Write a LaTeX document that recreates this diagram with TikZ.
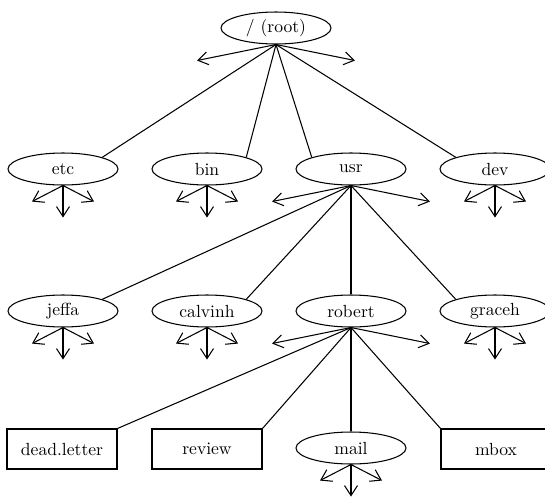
\documentclass[tikz,border=0pt]{standalone}
\usepackage{tikz}
\usetikzlibrary{shapes.geometric,arrows.meta}
\tikzset{
    node distance=2cm, % not used much, nodes sit at coordinates
    }

\begin{document}
\begin{tikzpicture}[x=0.02cm, y=-0.02cm, semithick,
dirnode/.style={ellipse, draw=black, inner sep=0pt, minimum width=2.2cm, minimum height=0.64cm},
filenode/.style={rectangle, draw=black, inner sep=0pt, minimum width=2.2cm, minimum height=0.8cm},
stub/.style={-{Straight Barb[length=2mm,width=2.6mm]}},
]
\useasboundingbox (0,0) rectangle (545,501);

\node[dirnode] (root) at (276,28) {/ (root)};

\node[dirnode] (etc) at (63,169) {etc};
\node[dirnode] (bin) at (207,169) {bin};
\node[dirnode] (usr) at (351,169) {usr};
\node[dirnode] (dev) at (495,169) {dev};

\node[dirnode] (jeffa) at (63,311) {jeffa};
\node[dirnode] (calvinh) at (207,311) {calvinh};
\node[dirnode] (robert) at (351,311) {robert};
\node[dirnode] (graceh) at (495,311) {graceh};

\node[filenode] (deadletter) at (62,449) {dead.letter};
\node[filenode] (review) at (207,449) {review};
\node[dirnode] (mail) at (351,448) {mail};
\node[filenode] (mbox) at (496,449) {mbox};

% tree lines
\draw (root.south) -- (etc.north east);
\draw (root.south) -- (bin.north east);
\draw (root.south) -- (usr.north west);
\draw (root.south) -- (dev.north west);
\draw (usr.south) -- (jeffa.north east);
\draw (usr.south) -- (calvinh.north east);
\draw (usr.south) -- (robert.north);
\draw (usr.south) -- (graceh.north west);
\draw (robert.south) -- (deadletter.north east);
\draw (robert.south) -- (review.north east);
\draw (robert.south) -- (mail.north);
\draw (robert.south) -- (mbox.north west);

% more entries not shown
\foreach \n in {root,usr,robert} {
  \draw[stub] (\n.south) -- +(-79,16);
  \draw[stub] (\n.south) -- +(79,16);
}
\foreach \n in {etc,bin,dev,jeffa,calvinh,graceh,mail} {
  \draw[stub] (\n.south) -- +(-31,16);
  \draw[stub] (\n.south) -- +(0,32);
  \draw[stub] (\n.south) -- +(31,16);
}
\end{tikzpicture}
\end{document}
